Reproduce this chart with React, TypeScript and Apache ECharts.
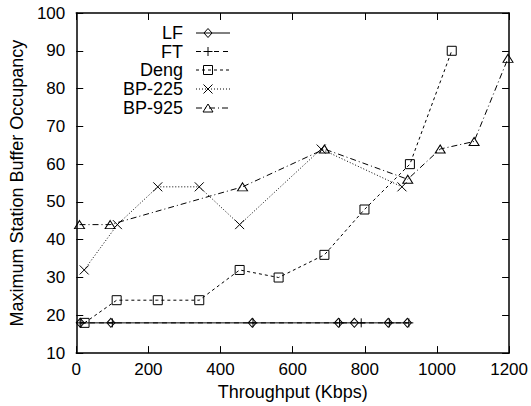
import React, { useEffect, useRef } from "react";
import * as echarts from "echarts";

const seriesNames = ["LF", "FT", "Deng", "BP-225", "BP-925"];

const lfX = [11, 96, 488, 727, 771, 865, 918];
const lfY = [18, 18, 18, 18, 18, 18, 18];

const ftX = [13, 100, 490, 730, 790, 868, 922];
const ftY = [18, 18, 18, 18, 18, 18, 18];

const dengX = [23, 112, 226, 341, 453, 561, 688, 799, 925, 1041];
const dengY = [18, 24, 24, 24, 32, 30, 36, 48, 60, 90];

const bp225X = [22, 114, 226, 341, 453, 679, 903];
const bp225Y = [32, 44, 54, 54, 44, 64, 54];

const bp925X = [9, 94, 461, 688, 919, 1009, 1103, 1197];
const bp925Y = [44, 44, 54, 64, 56, 64, 66, 88];

const xMin = 0, xMax = 1200, xStep = 200;
const yMin = 10, yMax = 100, yStep = 10;

const xTitle = "Throughput (Kbps)";
const yTitle = "Maximum Station Buffer Occupancy";

const FONT = "Liberation Sans, Arial, Helvetica, sans-serif";

const zip = (xs: number[], ys: number[]) => xs.map((x, i) => [x, ys[i]]);

const symbols = [
  "path://M5,0 L10,5 L5,10 L0,5 Z",
  "path://M5,0 L5,10 M0,5 L10,5",
  "path://M0,0 L10,0 L10,10 L0,10 Z",
  "path://M0,0 L10,10 M10,0 L0,10",
  "path://M5,0 L10,10 L0,10 Z",
];
const symbolSizes: any[] = [[8, 9], [9, 9], [9, 9], [9, 9], [10, 8]];
const dashes: any[] = ["solid", [5, 4], [3, 3], [1, 2], [6, 3, 1, 3]];
const seriesData = [
  zip(lfX, lfY),
  zip(ftX, ftY),
  zip(dengX, dengY),
  zip(bp225X, bp225Y),
  zip(bp925X, bp925Y),
];

function legendMarker(i: number, cx: number, cy: number): any {
  const st = { stroke: "#000", lineWidth: 1, fill: "none" };
  if (i === 0)
    return { type: "polygon", shape: { points: [[cx, cy - 4.5], [cx + 4, cy], [cx, cy + 4.5], [cx - 4, cy]] }, style: st };
  if (i === 1)
    return {
      type: "group",
      children: [
        { type: "line", shape: { x1: cx - 4.5, y1: cy, x2: cx + 4.5, y2: cy }, style: st },
        { type: "line", shape: { x1: cx, y1: cy - 4.5, x2: cx, y2: cy + 4.5 }, style: st },
      ],
    };
  if (i === 2)
    return { type: "rect", shape: { x: cx - 4.5, y: cy - 4.5, width: 9, height: 9 }, style: st };
  if (i === 3)
    return {
      type: "group",
      children: [
        { type: "line", shape: { x1: cx - 4.5, y1: cy - 4.5, x2: cx + 4.5, y2: cy + 4.5 }, style: st },
        { type: "line", shape: { x1: cx + 4.5, y1: cy - 4.5, x2: cx - 4.5, y2: cy + 4.5 }, style: st },
      ],
    };
  return { type: "polygon", shape: { points: [[cx, cy - 4], [cx + 5, cy + 4], [cx - 5, cy + 4]] }, style: st };
}

export default function App() {
  const ref = useRef<HTMLDivElement>(null);
  useEffect(() => {
    document.body.style.margin = "0";
    if (!ref.current) return;
    const chart = echarts.init(ref.current, undefined, { renderer: "svg" });

    const axisLine = { show: true, onZero: false, lineStyle: { color: "#000", width: 1.5 } };
    const axisTick = { show: true, inside: true, length: 7, lineStyle: { color: "#000", width: 1 } };
    const labelStyle = { color: "#000", fontSize: 17, fontFamily: FONT, formatter: (v: number) => String(v) };
    const nameStyle = { color: "#000", fontSize: 18, fontFamily: FONT };

    const legendRowsY = [33, 51.5, 70, 89, 108];
    const legendGraphics: any[] = [];
    seriesNames.forEach((n, i) => {
      const y = legendRowsY[i];
      legendGraphics.push({
        type: "text",
        x: 183,
        y,
        style: { text: n, fill: "#000", font: `18px ${FONT}`, align: "right", verticalAlign: "middle" },
      });
      legendGraphics.push({
        type: "line",
        shape: { x1: 196, y1: y, x2: 230, y2: y },
        style: { stroke: "#000", lineWidth: 1, lineDash: dashes[i] === "solid" ? null : dashes[i] },
      });
      legendGraphics.push(legendMarker(i, 208, y));
    });
    legendGraphics.push({
      type: "text", x: 352, y: -10,
      style: { text: "(", fill: "#000", font: `18px ${FONT}`, align: "center", verticalAlign: "middle" },
    });
    legendGraphics.push({
      type: "text", x: 512, y: -10,
      style: { text: ")", fill: "#000", font: `18px ${FONT}`, align: "center", verticalAlign: "middle" },
    });

    chart.setOption({
      animation: false,
      backgroundColor: "#fff",
      grid: { left: 76, right: 21, top: 13, bottom: 47, containLabel: false },
      xAxis: [
        {
          type: "value", min: xMin, max: xMax, interval: xStep, position: "bottom",
          axisLine, axisTick, splitLine: { show: false },
          axisLabel: { ...labelStyle, margin: 8 },
          name: xTitle, nameLocation: "middle", nameGap: 28, nameTextStyle: nameStyle,
        },
        {
          type: "value", min: xMin, max: xMax, interval: xStep, position: "top",
          axisLine, axisTick, splitLine: { show: false }, axisLabel: { show: false },
        },
      ],
      yAxis: [
        {
          type: "value", min: yMin, max: yMax, interval: yStep, position: "left",
          axisLine, axisTick, splitLine: { show: false },
          axisLabel: { ...labelStyle, margin: 11 },
          name: yTitle, nameLocation: "middle", nameGap: 50, nameRotate: 90, nameTextStyle: nameStyle,
        },
        {
          type: "value", min: yMin, max: yMax, interval: yStep, position: "right",
          axisLine, axisTick, splitLine: { show: false }, axisLabel: { show: false },
        },
      ],
      series: seriesNames.map((n, i) => ({
        name: n,
        type: "line",
        xAxisIndex: 0,
        yAxisIndex: 0,
        data: seriesData[i],
        symbol: symbols[i],
        symbolSize: symbolSizes[i],
        showAllSymbol: true,
        lineStyle: { color: "#000", width: 1, type: dashes[i] },
        itemStyle: { color: "rgba(0,0,0,0)", borderColor: "#000", borderWidth: 1 },
        emphasis: { disabled: true },
        z: 10 - i,
      })),
      graphic: legendGraphics,
    });
    return () => chart.dispose();
  }, []);
  return <div ref={ref} style={{ width: 531, height: 406 }} />;
}
